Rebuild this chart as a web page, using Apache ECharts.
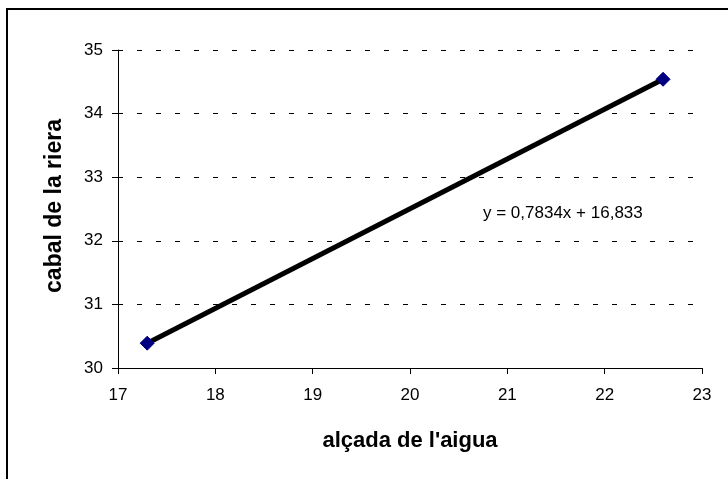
<!DOCTYPE html>
<html>
<head>
<meta charset="utf-8">
<script src="https://cdn.jsdelivr.net/npm/echarts@6/dist/echarts.min.js"></script>
<style>html,body{margin:0;padding:0;background:#fff;}#c{width:728px;height:479px;}</style>
</head>
<body>
<div id="c"></div>
<script>
const xValues = [17.3, 22.6];
const yValues = [30.39, 34.54];
const xTicks = [17, 18, 19, 20, 21, 22, 23];
const yTicks = [30, 31, 32, 33, 34, 35];
const xTitle = "alçada de l'aigua";
const yTitle = "cabal de la riera";
const equation = "y = 0,7834x + 16,833";

const chart = echarts.init(document.getElementById('c'), null, {renderer: 'canvas'});
const font = 'Liberation Sans, Arial, sans-serif';
chart.setOption({
  animation: false,
  backgroundColor: '#fff',
  grid: {left: 118, right: 26, top: 50, bottom: 111},
  xAxis: {
    type: 'value', min: xTicks[0], max: xTicks[xTicks.length - 1], interval: 1,
    axisLine: {show: true, lineStyle: {color: '#000', width: 1}},
    axisTick: {show: true, length: 6, lineStyle: {color: '#000'}},
    axisLabel: {color: '#000', fontFamily: font, fontSize: 17, margin: 19},
    splitLine: {show: false}
  },
  yAxis: {
    type: 'value', min: yTicks[0], max: yTicks[yTicks.length - 1], interval: 1,
    axisLine: {show: true, lineStyle: {color: '#000', width: 1}},
    axisTick: {show: true, length: 6, lineStyle: {color: '#000'}},
    axisLabel: {color: '#000', fontFamily: font, fontSize: 17, margin: 15},
    splitLine: {show: true, lineStyle: {color: '#000', width: 1, type: [5, 14]}}
  },
  series: [{
    type: 'line',
    data: xValues.map((x, i) => [x, yValues[i]]),
    symbol: 'diamond', symbolSize: 14,
    lineStyle: {color: '#000', width: 5},
    itemStyle: {color: '#000080', borderColor: '#000080', borderWidth: 1},
    z: 3
  }],
  graphic: [
    {type: 'rect', shape: {x: 7, y: 9, width: 740, height: 500}, style: {fill: 'none', stroke: '#000', lineWidth: 2}, z: 0, silent: true},
    {type: 'text', x: 483, y: 213, style: {text: equation, font: '17px ' + font, fill: '#000', textAlign: 'left', textVerticalAlign: 'middle'}},
    {type: 'text', x: 410, y: 441, style: {text: xTitle, font: 'bold 22px ' + font, fill: '#000', textAlign: 'center', textVerticalAlign: 'middle'}},
    {type: 'text', rotation: Math.PI / 2, x: 55, y: 206, style: {text: yTitle, font: 'bold 23px ' + font, fill: '#000', textAlign: 'center', textVerticalAlign: 'middle'}}
  ]
});
</script>
</body>
</html>
